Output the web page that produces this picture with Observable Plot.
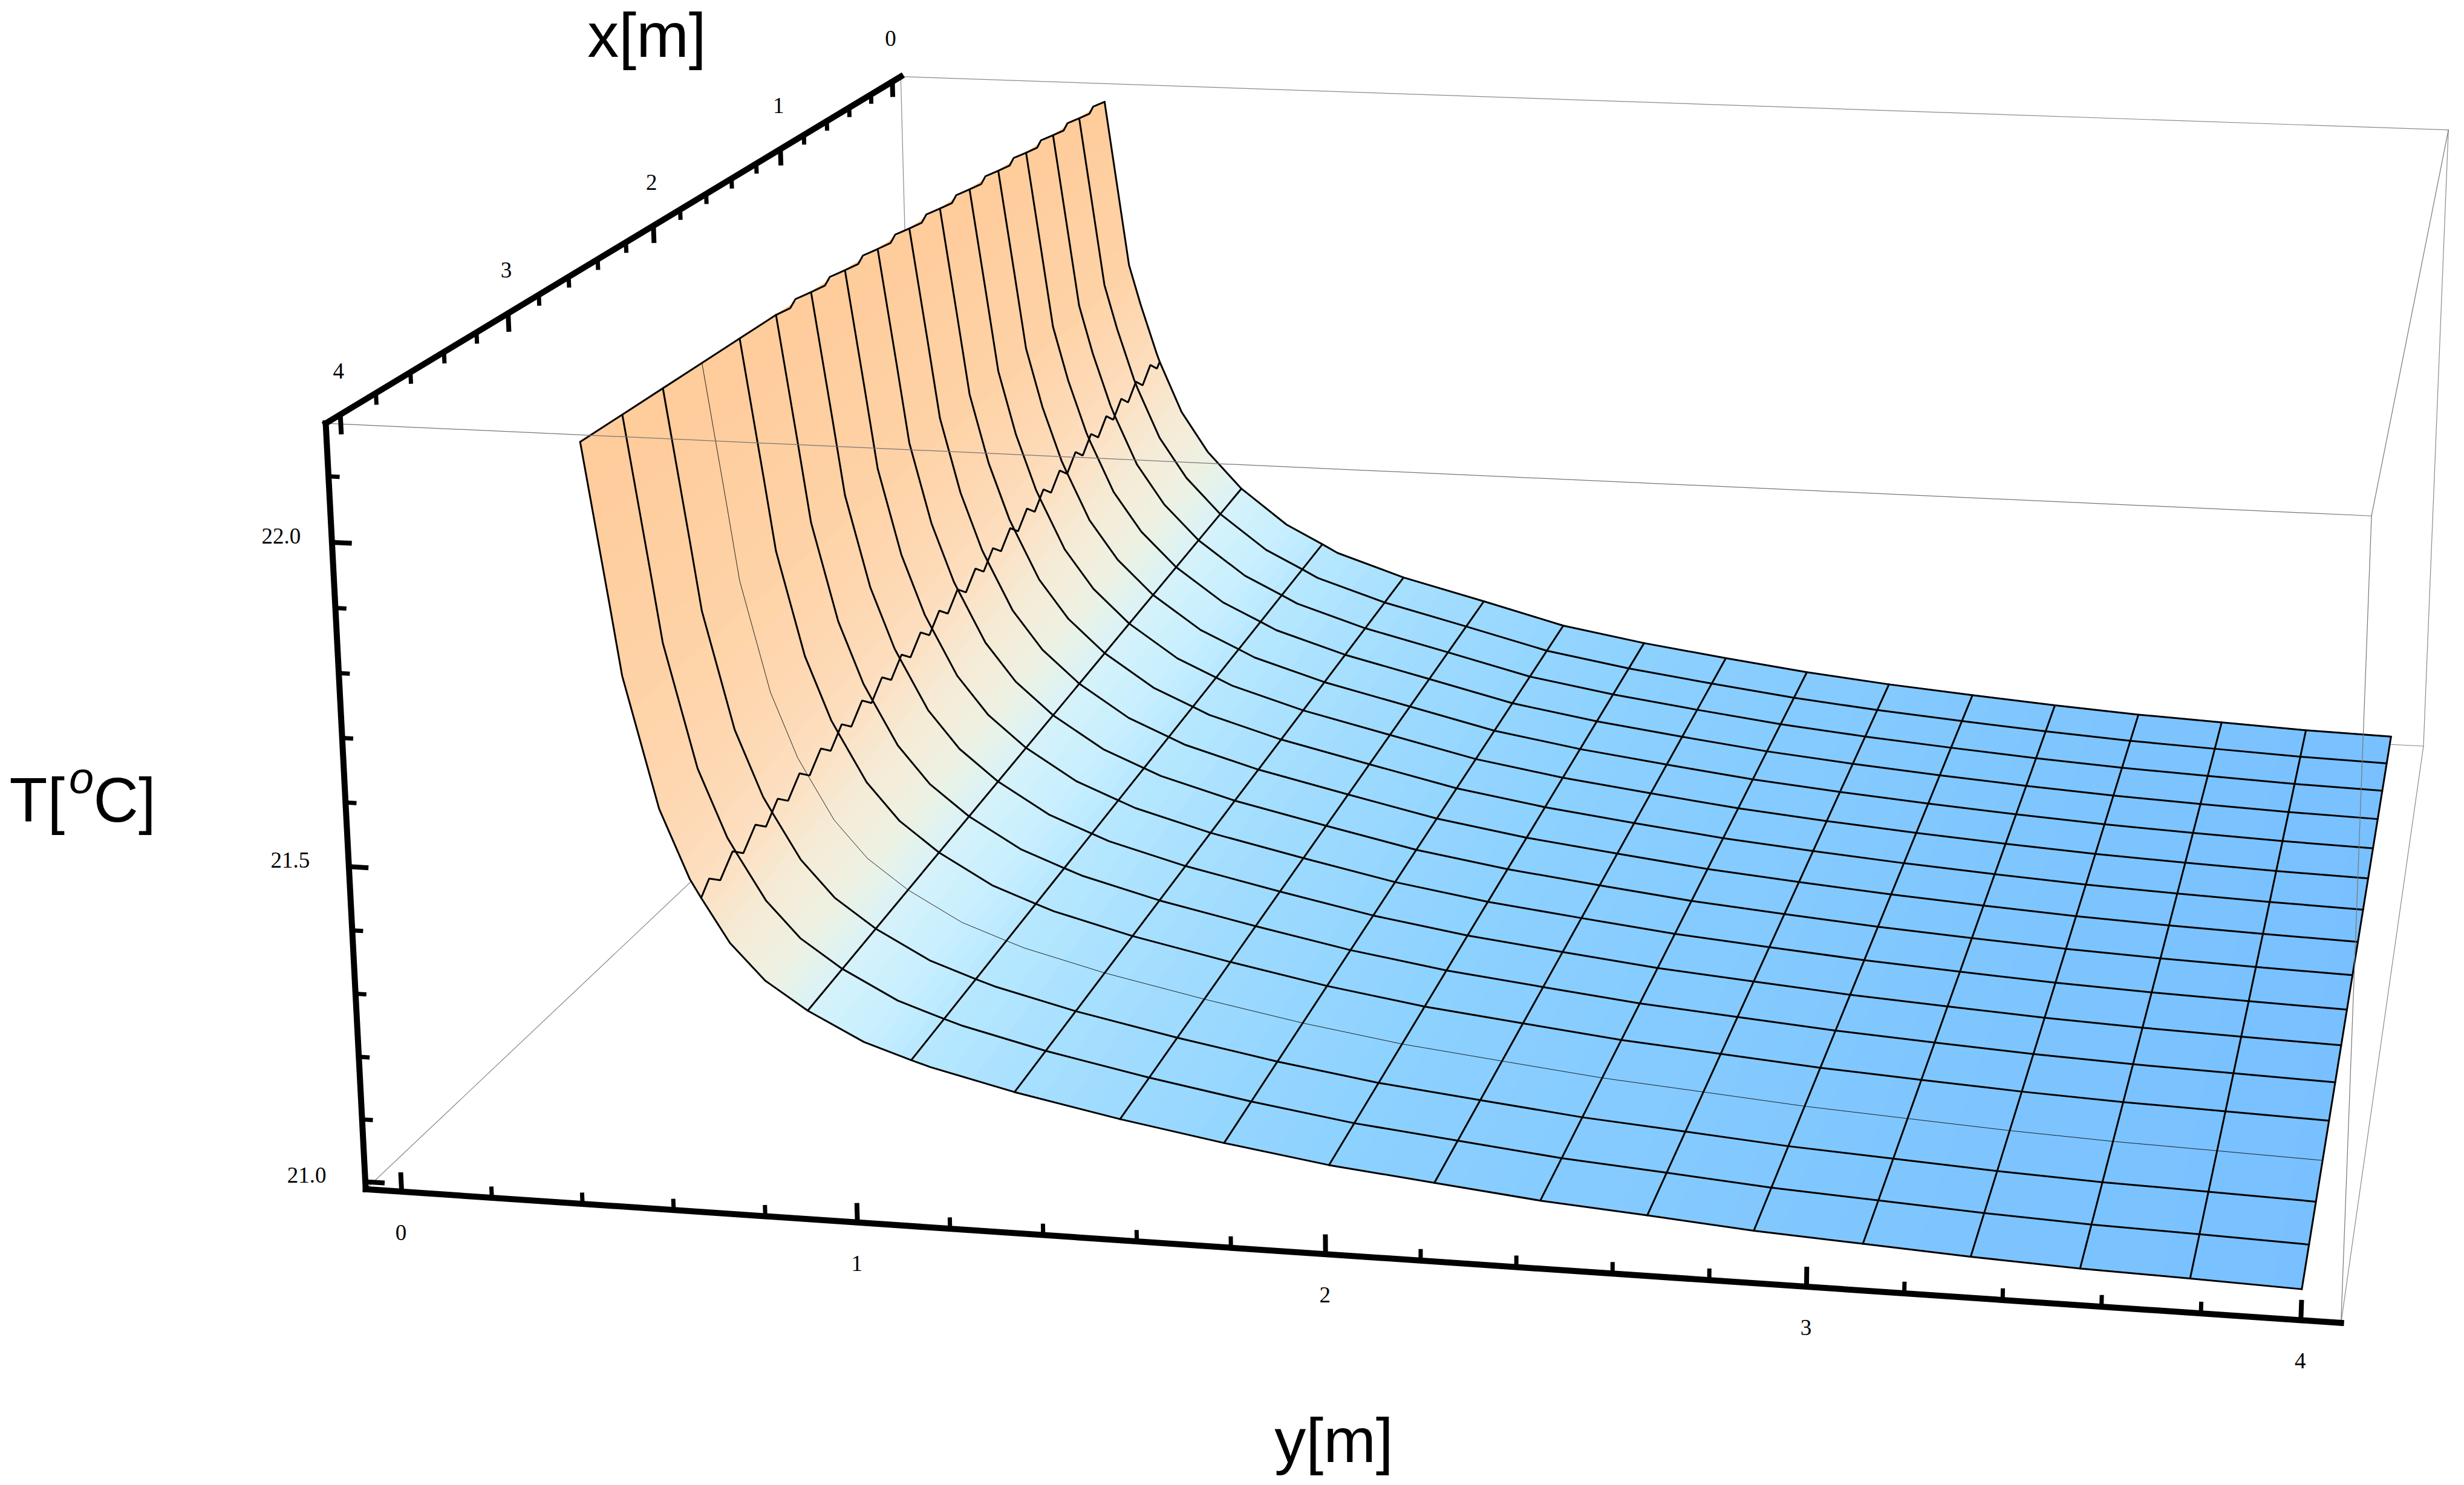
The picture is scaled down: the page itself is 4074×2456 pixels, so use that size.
<!DOCTYPE html>
<html><head><meta charset="utf-8">
<script src="https://cdn.jsdelivr.net/npm/d3@7"></script>
<script src="https://cdn.jsdelivr.net/npm/@observablehq/plot@0.6"></script>
<style>html,body{margin:0;background:#fff}</style></head>
<body><div id="c"></div>
<script>
// ---- data: surface rows at the x=4 and x=0 edges ----
const yFront = [0.435,0.484,0.505,0.574,0.635,0.658,0.717,0.791,0.881,1.001,1.102,1.143,1.323,1.548,1.769,1.991,2.213,2.435,2.658,2.879,3.104,3.325,3.548,3.771,3.996];
const tFront = [22.155,21.910,21.802,21.599,21.492,21.464,21.396,21.340,21.297,21.253,21.229,21.220,21.189,21.157,21.130,21.106,21.089,21.072,21.060,21.047,21.038,21.029,21.022,21.018,21.013];
const yBack  = [0.509,0.539,0.569,0.599,0.642,0.650,0.709,0.781,0.873,0.998,1.097,1.139,1.322,1.544,1.763,1.985,2.209,2.430,2.653,2.879,3.101,3.325,3.547,3.771,3.996];
const tBack  = [22.155,21.996,21.837,21.761,21.664,21.648,21.550,21.472,21.402,21.334,21.298,21.282,21.239,21.199,21.158,21.131,21.109,21.089,21.073,21.060,21.048,21.038,21.031,21.024,21.020];
const meshRows = [0,5,8,10,12,13,14,15,16,17,18,19,20,21,22,23,24];
const meshX = [0,0.25,0.5,0.75,1,1.25,1.5,1.75,2,2.25,2.5,2.75,3,3.25,3.5,3.75,4];
const thinX = 3.25;
const jagTeeth = 25;
const jagPhase = [0,0.45];
const jagOffset = [0.015,-0.007];
const topPhase = [0.45,0.6];
const topOffset = [0.005,-0.004];
const xTicks = [0,0.2,0.4,0.6,0.8,1,1.2,1.4,1.6,1.8,2,2.2,2.4,2.6,2.8,3,3.2,3.4,3.6,3.8,4];
const yTicks = xTicks;
const tTicks = [21,21.1,21.2,21.3,21.4,21.5,21.6,21.7,21.8,21.9,22,22.1];
const xLabels = [0,1,2,3,4];
const yLabels = [0,1,2,3,4];
const tLabels = [21,21.5,22];
const tLabelShift = [-97,-97,-84];
const colorY = [0.45,0.55,0.62,0.67,0.71,0.78,0.84,0.89,1.0,1.1,1.32,1.55,1.77,2.0,2.4,3.0,3.5,4.0];
const colorHex = ["#ffca96","#fed3a8","#fddbb8","#fbe3c8","#f5ebd5","#f0f0e0","#e3f3ee","#d5f2fb","#c8efff","#b8e8ff","#a8e0ff","#9ddaff","#94d5ff","#8dd1ff","#87ccff","#80c7ff","#7cc3ff","#78c0ff"];
const box = {x:[-0.08,4.08], y:[-0.08,4.08], T:[20.988,22.18]};
// camera calibration: the box corners on the page
const W = 4074, H = 2456;
const calib = [
 [1,0,1,538,700],[0,0,1,1489,126],[1,1,1,3920,853],[0,1,1,4048,214],
 [1,0,0,604,1966],[1,1,0,3871,2187],[0,1,0,4006,1234]];
function solve(A,b){const n=b.length;const M=A.map((r,i)=>[...r,b[i]]);
 for(let i=0;i<n;i++){let p=i;for(let k=i+1;k<n;k++)if(Math.abs(M[k][i])>Math.abs(M[p][i]))p=k;[M[i],M[p]]=[M[p],M[i]];
  for(let k=0;k<n;k++)if(k!==i){const f=M[k][i]/M[i][i];for(let c=i;c<=n;c++)M[k][c]-=f*M[i][c];}}
 return M.map((r,i)=>r[n]/r[i]);}
function fit(){const R=[],B=[];for(const [u,v,w,px,py] of calib){
  R.push([u,v,w,1,0,0,0,0,-px*u,-px*v,-px*w]);B.push(px);
  R.push([0,0,0,0,u,v,w,1,-py*u,-py*v,-py*w]);B.push(py);}
 const n=11,A=d3.range(n).map(i=>d3.range(n).map(j=>d3.sum(R,r=>r[i]*r[j]))),b=d3.range(n).map(i=>d3.sum(R,(r,k)=>r[i]*B[k]));
 return solve(A,b);}
const P = fit();
function proj(x,y,T){const u=(x-box.x[0])/(box.x[1]-box.x[0]),v=(y-box.y[0])/(box.y[1]-box.y[0]),w=(T-box.T[0])/(box.T[1]-box.T[0]);
 const d=P[8]*u+P[9]*v+P[10]*w+1;return {px:(P[0]*u+P[1]*v+P[2]*w+P[3])/d,py:(P[4]*u+P[5]*v+P[6]*w+P[7])/d};}
const pt=(x,y,T,e={})=>({...proj(x,y,T),...e});
const [xa,xb]=box.x,[ya,yb]=box.y,[ta,tb]=box.T;
const poly=(id,ps)=>ps.map(p=>pt(p[0],p[1],p[2],{id}));
const backLines=[
 ...poly("a",[[xa,ya,tb],[xa,yb,tb]]),...poly("b",[[xa,ya,tb],[xa,ya,ta]]),
 ...poly("c",[[xa,ya,ta],[xb,ya,ta]]),...poly("d",[[xa,ya,ta],[xa,yb,ta]]),
 ...poly("e",[[xa,yb,tb],[xa,yb,ta]]),...poly("f",[[xa,yb,ta],[xb,yb,ta]])];
const frontLines=[...poly("a",[[xb,ya,tb],[xb,yb,tb]]),...poly("b",[[xb,yb,tb],[xb,yb,ta]]),...poly("c",[[xb,yb,tb],[xa,yb,tb]])];
const axes=[...poly("x",[[xa,ya,tb],[xb,ya,tb]]),...poly("t",[[xb,ya,tb],[xb,ya,ta]]),...poly("y",[[xb,ya,ta],[xb,yb,ta]])];
const isMajor=v=>Math.abs(v-Math.round(v))<1e-6;
const tick=(a,b)=>{const p=proj(...a),q=proj(...b);return {x1:p.px,y1:p.py,x2:q.px,y2:q.py};};
const ticksMajor=[],ticksMinor=[];
for(const v of xTicks)(isMajor(v)?ticksMajor:ticksMinor).push(tick([v,ya,tb],[v,ya,tb-(isMajor(v)?0.03:0.018)]));
for(const v of yTicks)(isMajor(v)?ticksMajor:ticksMinor).push(tick([xb,v,ta],[xb,v,ta+(isMajor(v)?0.031:0.018)]));
for(const v of tTicks){const m=Math.abs(v*2-Math.round(v*2))<1e-6;(m?ticksMajor:ticksMinor).push(tick([xb,ya,v],[xb,ya+(m?0.043:0.024),v]));}
// a point of the surface: row r (may be fractional) at position x
function surf(x,r){const i=Math.min(Math.floor(r),yFront.length-2),f=r-i,s=x/4,
  yb0=yBack[i]+(yBack[i+1]-yBack[i])*f,yf0=yFront[i]+(yFront[i+1]-yFront[i])*f,
  tb0=tBack[i]+(tBack[i+1]-tBack[i])*f,tf0=tFront[i]+(tFront[i+1]-tFront[i])*f;
  return [x,yb0+(yf0-yb0)*s,tb0+(tf0-tb0)*s];}
const strips=[];
const sub=4;
for(let p=0;p<yFront.length-1;p++)for(let q=0;q<sub;q++){
 const r0=p+q/sub,r1=p+(q+1)/sub,c=(surf(2,r0)[1]+surf(2,r1)[1])/2;
 for(const x of [0,4]){const a=proj(...surf(x,r0)),b=proj(...surf(x,r1));
  strips.push({x1:a.px,y1:a.py,x2:b.px,y2:b.py,id:p*sub+q,c});}}
const meshLines=[];
meshRows.forEach((r,i)=>{
 if(i===1){ // the saw-toothed line
  const n=jagTeeth,d=4/n;
  meshLines.push(pt(...surf(4,r),{id:"y1"}));
  for(let k=0;k<n;k++)jagPhase.forEach((ph,m)=>{
    const x=4-(k+0.35+ph)*d; if(x<=0)return;
    const s=surf(x,r);meshLines.push(pt(s[0],s[1],s[2]+jagOffset[m],{id:"y1"}));});
  meshLines.push(pt(...surf(0,r),{id:"y1"}));
 } else if(i===0){ // the stepped top edge, stepped over the back part
  meshX.forEach((x,j)=>{
    meshLines.push(pt(...surf(x,r),{id:"y0"}));
    if(x<2.75)topPhase.forEach((ph,m)=>{const s=surf(x+ph*0.25,r);meshLines.push(pt(s[0],s[1],s[2]+topOffset[m],{id:"y0"}));});
  });
 } else {
  meshLines.push(pt(...surf(0,r),{id:"y"+i}));
  meshLines.push(pt(...surf(4,r),{id:"y"+i}));
 }});
const rowIdx=d3.range(yFront.length);
meshX.filter(x=>x!==thinX).forEach(x=>rowIdx.forEach(r=>meshLines.push(pt(...surf(x,r),{id:"x"+x}))));
const thin=rowIdx.map(r=>pt(...surf(thinX,r)));
const lab=(vals,f,fmt)=>vals.map(v=>({...f(v),s:fmt(v)}));
const xLab=lab(xLabels,v=>proj(v,ya,tb),String),yLab=lab(yLabels,v=>proj(xb,v,ta),String);
const tLab=tLabels.map((v,i)=>{const p=proj(xb,ya,v);return {px:p.px+tLabelShift[i],py:p.py,s:v.toFixed(1)};});
const serif="'Liberation Serif',serif",sans="'Liberation Sans',sans-serif";
const plot=Plot.plot({width:W,height:H,margin:0,
 x:{domain:[0,W],range:[0,W],axis:null},y:{domain:[0,H],range:[0,H],axis:null},
 color:{type:"linear",domain:colorY,range:colorHex},
 style:{background:"#fff"},
 marks:[
  Plot.line(backLines,{x:"px",y:"py",z:"id",stroke:"#8a8a8a",strokeWidth:1.2}),
  Plot.area(strips,{x1:"x1",y1:"y1",x2:"x2",y2:"y2",z:"id",fill:"c",stroke:"c",strokeWidth:1}),
  Plot.line(thin,{x:"px",y:"py",stroke:"#111",strokeWidth:0.9}),
  Plot.line(meshLines,{x:"px",y:"py",z:"id",stroke:"#000",strokeWidth:3,strokeLinejoin:"miter"}),
  Plot.line(frontLines,{x:"px",y:"py",z:"id",stroke:"#777",strokeWidth:1.2}),
  Plot.link(ticksMinor,{x1:"x1",y1:"y1",x2:"x2",y2:"y2",stroke:"#000",strokeWidth:7}),
  Plot.link(ticksMajor,{x1:"x1",y1:"y1",x2:"x2",y2:"y2",stroke:"#000",strokeWidth:8}),
  Plot.line(axes,{x:"px",y:"py",z:"id",stroke:"#000",strokeWidth:10,strokeLinecap:"square"}),
  Plot.text(xLab,{x:"px",y:"py",text:"s",dx:-3,dy:-71,fontSize:37,fontFamily:serif,fill:"#000"}),
  Plot.text(yLab,{x:"px",y:"py",text:"s",dx:-1,dy:68,fontSize:37,fontFamily:serif,fill:"#000"}),
  Plot.text(tLab,{x:"px",y:"py",text:"s",dy:-10,fontSize:37,fontFamily:serif,fill:"#000"}),
  Plot.text(["x[m]"],{x:[1069],y:[60],text:d=>d,fontSize:104,fontFamily:sans,fill:"#000"}),
  Plot.text(["y[m]"],{x:[2205],y:[2384],text:d=>d,fontSize:104,fontFamily:sans,fill:"#000"}),
  Plot.text(["T["],{x:[15],y:[1326],text:d=>d,textAnchor:"start",fontSize:103,fontFamily:sans,fill:"#000"}),
  Plot.text(["o"],{x:[134],y:[1288],text:d=>d,fontSize:74,fontStyle:"italic",fontFamily:sans,fill:"#000"}),
  Plot.text(["C]"],{x:[154],y:[1326],text:d=>d,textAnchor:"start",fontSize:103,fontFamily:sans,fill:"#000"})
 ]});
document.getElementById("c").append(plot);
</script></body></html>
